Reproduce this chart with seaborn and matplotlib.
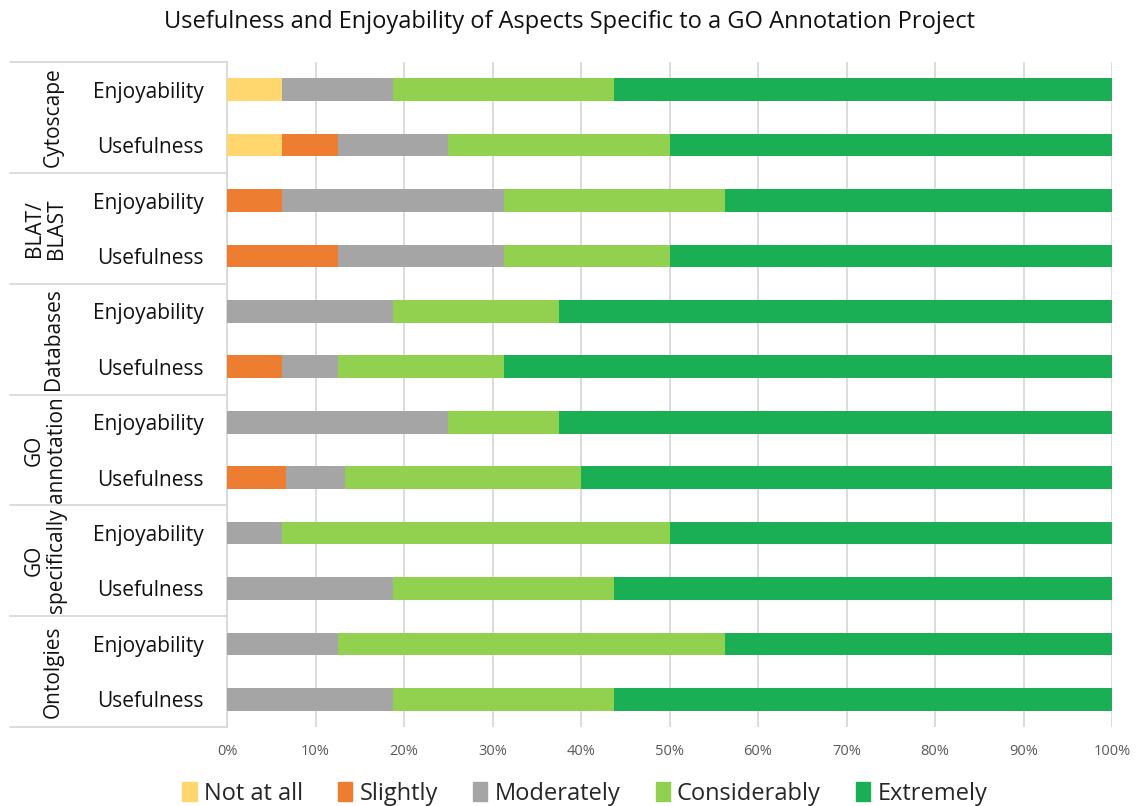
import numpy as np
import pandas as pd
import matplotlib.pyplot as plt
import matplotlib.transforms as mtransforms
import seaborn as sns

groups = ["Cytoscape", "BLAT/\nBLAST", "Databases", "GO\nannotation", "GO\nspecifically", "Ontolgies"]
aspects = ["Enjoyability", "Usefulness"]
levels = ["Not at all", "Slightly", "Moderately", "Considerably", "Extremely"]
colors = ["#FFD76E", "#ED7D31", "#A5A5A5", "#92D050", "#1AAF54"]

# percent of respondents, rows top to bottom
not_at_all = [6.25, 6.25, 0, 0, 0, 0, 0, 0, 0, 0, 0, 0]
slightly = [0, 6.25, 6.25, 12.5, 0, 6.25, 0, 6.67, 0, 0, 0, 0]
moderately = [12.5, 12.5, 25, 18.75, 18.75, 6.25, 25, 6.67, 6.25, 18.75, 12.5, 18.75]
considerably = [25, 25, 25, 18.75, 18.75, 18.75, 12.5, 26.67, 43.75, 25, 43.75, 25]
extremely = [56.25, 50, 43.75, 50, 62.5, 68.75, 62.5, 60, 50, 56.25, 43.75, 56.25]

rows = [f"{g}|{a}" for g in groups for a in aspects]
df = pd.DataFrame({"row": rows, "Not at all": not_at_all, "Slightly": slightly,
                   "Moderately": moderately, "Considerably": considerably,
                   "Extremely": extremely})
cum = df[levels].cumsum(axis=1)
cum = cum.div(cum["Extremely"], axis=0) * 100

sns.set_style("white")
plt.rcParams["font.family"] = ["Open Sans", "DejaVu Sans"]

fig = plt.figure(figsize=(11.4, 8.06), dpi=100)
ax = fig.add_axes([227 / 1140, 1 - 727 / 806, 885 / 1140, 665 / 806])

# draw stacked bars as cumulative totals, widest first
for lvl, col in zip(levels[::-1], colors[::-1]):
    sns.barplot(x=cum[lvl], y=df["row"], color=col, width=0.41, ax=ax,
                orient="h", saturation=1, linewidth=0, order=rows, zorder=3)

ax.set_xlim(0, 100)
ax.set_ylim(len(rows) - 0.5, -0.5)
ax.set_xticks(np.arange(0, 101, 10))
ax.set_xticklabels([f"{v}%" for v in range(0, 101, 10)])
ax.xaxis.grid(True, color="#d9d9d9", linewidth=1.3, zorder=0)
ax.set_axisbelow(True)
ax.set_yticks(range(len(rows)))
ax.set_yticklabels([r.split("|")[1] for r in rows], fontsize=15)
ax.set_xlabel("")
ax.set_ylabel("")
for s in ["top", "right", "bottom"]:
    ax.spines[s].set_visible(False)
ax.spines["left"].set_color("#d9d9d9")
ax.spines["left"].set_linewidth(1.3)
ax.tick_params(axis="x", length=7, color="#d9d9d9", width=1.3, labelsize=10.5,
               labelcolor="#595959", pad=5)
ax.tick_params(axis="y", length=0, pad=17, labelcolor="#111111")

# group labels and separators on the left
trans = mtransforms.blended_transform_factory(ax.transAxes, ax.transData)
for i in range(len(groups) + 1):
    ax.plot([-0.245, 0], [2 * i - 0.5] * 2, color="#d9d9d9", lw=1.3,
            transform=trans, clip_on=False)
for i, g in enumerate(groups):
    xpos = -0.205 if "\n" in g else -0.196
    ax.text(xpos, 2 * i + 0.5, g, rotation=90, ha="center", va="center",
            fontsize=15, color="#111111", transform=trans, linespacing=1.05)

fig.suptitle("Usefulness and Enjoyability of Aspects Specific to a GO Annotation Project",
             x=0.5, y=0.988, fontsize=17, color="#111111")

handles = [plt.Rectangle((0, 0), 1, 1, color=c) for c in colors]
fig.legend(handles, levels, loc="lower center", ncol=5, frameon=False,
           fontsize=17, bbox_to_anchor=(0.513, -0.026), handlelength=0.6,
           handleheight=0.9, handletextpad=0.3, columnspacing=1.5)

fig.savefig("out.png", dpi=100)
